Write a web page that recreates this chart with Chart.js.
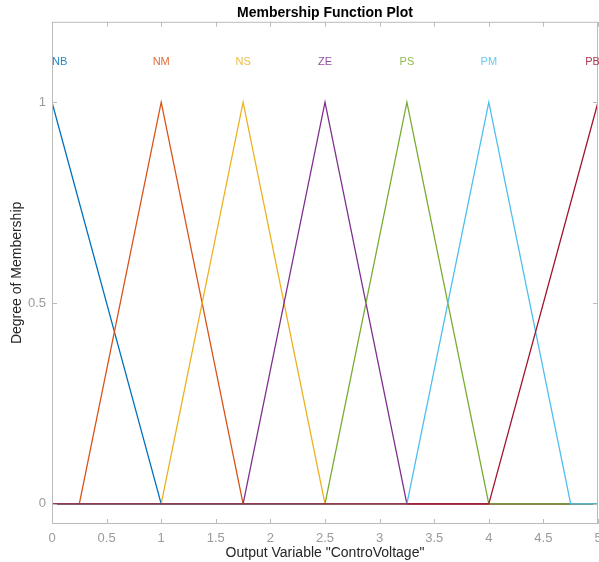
<!DOCTYPE html>
<html>
<head>
<meta charset="utf-8">
<script src="https://cdn.jsdelivr.net/npm/chart.js@4"></script>
<style>
  html, body { margin: 0; padding: 0; background: #fff; }
  #wrap { width: 599px; height: 562px; }
</style>
</head>
<body>
<div id="wrap"><canvas id="grafico" width="599" height="562"></canvas></div>
<script>
// membership function names and colours
const mfNames = ['NB', 'NM', 'NS', 'ZE', 'PS', 'PM', 'PB'];
const mfColors = ['#0072BD', '#D95319', '#EDB120', '#7E2F8E', '#77AC30', '#4DBEEE', '#A2142F'];

// vertices of each triangle (x, membership)
const nbX = [0, 1, 5];             const nbY = [1, 0, 0];
const nmX = [0, 0.25, 1, 1.75, 5]; const nmY = [0, 0, 1, 0, 0];
const nsX = [0, 1, 1.75, 2.5, 5];  const nsY = [0, 0, 1, 0, 0];
const zeX = [0, 1.75, 2.5, 3.25, 5]; const zeY = [0, 0, 1, 0, 0];
const psX = [0, 2.5, 3.25, 4, 5];  const psY = [0, 0, 1, 0, 0];
const pmX = [0, 3.25, 4, 4.75, 5]; const pmY = [0, 0, 1, 0, 0];
const pbX = [0, 4, 5];             const pbY = [0, 0, 1];

// where the names are written
const labelX = [0.07, 1, 1.75, 2.5, 3.25, 4, 4.95];
const labelY = 1.1;

const xTicks = [0, 0.5, 1, 1.5, 2, 2.5, 3, 3.5, 4, 4.5, 5];
const yTicks = [0, 0.5, 1];

const allX = [nbX, nmX, nsX, zeX, psX, pmX, pbX];
const allY = [nbY, nmY, nsY, zeY, psY, pmY, pbY];

const axisGrey = '#bcbcbc';
const fontFam = '"Liberation Sans", Arial, sans-serif';

const boxPlugin = {
    id: 'boxAndLabels',
    afterDatasetsDraw(chart) {
        const {ctx, chartArea: a, scales: {x, y}} = chart;
        ctx.save();
        ctx.strokeStyle = axisGrey;
        ctx.lineWidth = 1;
        ctx.strokeRect(a.left + 0.5, a.top + 0.5, a.right - a.left - 1, a.bottom - a.top - 1);
        ctx.beginPath();
        xTicks.forEach(v => {
            const px = Math.round(x.getPixelForValue(v)) + 0.5;
            ctx.moveTo(px, a.bottom); ctx.lineTo(px, a.bottom - 5);
            ctx.moveTo(px, a.top); ctx.lineTo(px, a.top + 5);
        });
        yTicks.forEach(v => {
            const py = Math.round(y.getPixelForValue(v)) + 0.5;
            ctx.moveTo(a.left, py); ctx.lineTo(a.left + 5, py);
            ctx.moveTo(a.right, py); ctx.lineTo(a.right - 5, py);
        });
        ctx.stroke();

        ctx.font = '11px ' + fontFam;
        ctx.textAlign = 'center';
        ctx.textBaseline = 'middle';
        mfNames.forEach((n, i) => {
            ctx.fillStyle = mfColors[i];
            ctx.globalAlpha = 0.85;
            ctx.fillText(n, x.getPixelForValue(labelX[i]), y.getPixelForValue(labelY));
        });
        ctx.restore();
    }
};

new Chart(document.getElementById('grafico').getContext('2d'), {
    type: 'scatter',
    data: {
        datasets: mfNames.map((n, i) => ({
            label: n,
            data: allX[i].map((v, j) => ({x: v, y: allY[i][j]})),
            showLine: true,
            borderColor: mfColors[i],
            backgroundColor: mfColors[i],
            borderWidth: 1.3,
            pointRadius: 0,
            order: mfNames.length - i
        }))
    },
    options: {
        responsive: false,
        animation: false,
        layout: {padding: {right: 1}},
        plugins: {
            legend: {display: false},
            tooltip: {enabled: false},
            title: {
                display: true,
                fullSize: false,
                text: 'Membership Function Plot',
                color: '#000',
                font: {family: fontFam, size: 14, weight: 'bold'},
                padding: {top: 5, bottom: 0}
            }
        },
        scales: {
            x: {
                type: 'linear',
                min: 0,
                max: 5,
                afterBuildTicks: s => { s.ticks = xTicks.map(v => ({value: v})); },
                afterFit: s => { s.height = 38; s.paddingLeft = 0; s.paddingRight = 0; },
                grid: {display: false, drawTicks: false},
                border: {display: false},
                ticks: {
                    color: '#9a9a9a',
                    padding: 7,
                    maxRotation: 0,
                    callback: v => String(v),
                    font: {family: fontFam, size: 13}
                },
                title: {
                    display: true,
                    text: 'Output Variable "ControVoltage"',
                    color: '#262626',
                    font: {family: fontFam, size: 14},
                    padding: {top: 0, bottom: 0}
                }
            },
            y: {
                min: -0.05,
                max: 1.2,
                afterBuildTicks: s => { s.ticks = yTicks.map(v => ({value: v})); },
                afterFit: s => { s.width = 52; },
                grid: {display: false, drawTicks: false},
                border: {display: false},
                ticks: {
                    color: '#9a9a9a',
                    padding: 6,
                    callback: v => String(v),
                    font: {family: fontFam, size: 13}
                },
                title: {
                    display: true,
                    text: 'Degree of Membership',
                    color: '#262626',
                    font: {family: fontFam, size: 14},
                    padding: {top: 9, bottom: 0}
                }
            }
        }
    },
    plugins: [boxPlugin]
});
</script>
</body>
</html>
